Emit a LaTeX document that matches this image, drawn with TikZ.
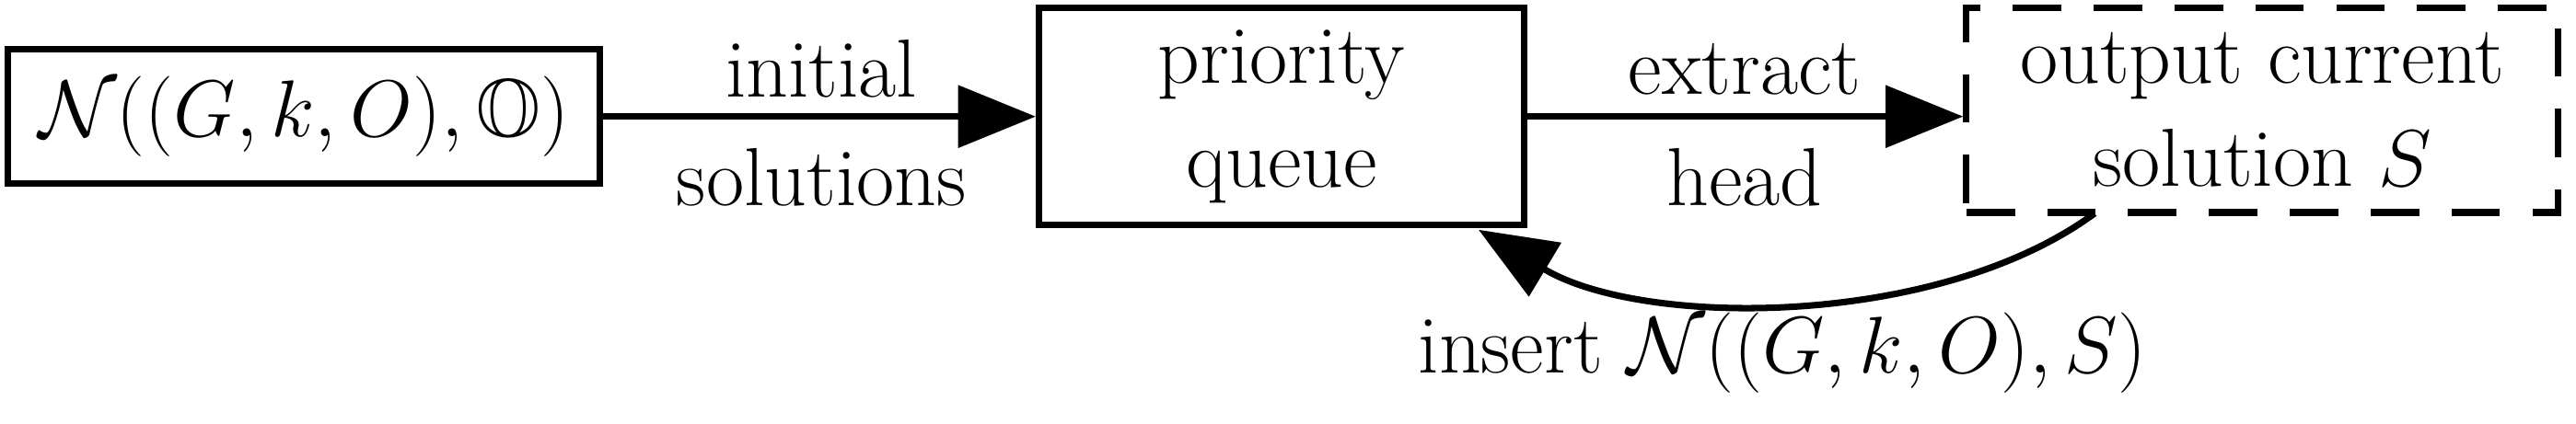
\documentclass[tikz,border=0pt]{standalone}
\usepackage{amssymb}
\usetikzlibrary{arrows.meta}
\begin{document}
\begin{tikzpicture}[x=0.01785cm,y=-0.01785cm,
  every node/.style={font=\fontsize{25.5}{32}\selectfont},
  box/.style={draw,line width=2pt,inner sep=0pt,align=center},
  lbl/.style={inner sep=0pt},
  arr/.style={line width=2pt,-{Triangle[length=24pt,width=19pt]}}]
\useasboundingbox (0,0) rectangle (1568,258);
\node[box,minimum width=6.43cm,minimum height=1.46cm] (a) at (185,71) {$\mathcal{N}((G,k,O),\mathbb{O})$};
\node[box,minimum width=5.27cm,minimum height=2.36cm] (b) at (780,71) {priority\\queue};
\node[box,dashed,dash pattern=on 15pt off 10pt,minimum width=6.43cm,minimum height=2.23cm] (c) at (1377,67) {output current\\solution $S$};
\draw[arr] (a.east) -- (b.west |- a.east);
\draw[arr] (b.east) -- (c.west |- b.east);
\node[lbl] (l1) at (500,42) {initial};
\node[lbl] (l2) at (500,108) {solutions};
\node[lbl] (l3) at (1062,42) {extract};
\node[lbl] (l4) at (1062,108) {head};
\coordinate (cs) at (1275,130);
\coordinate (be) at (900,140);
\draw[arr] (cs) .. controls (1180,200) and (1000,200) .. (be);
\node[lbl] (l5) at (1085,215) {insert $\mathcal{N}((G,k,O),S)$};
\end{tikzpicture}
\end{document}
